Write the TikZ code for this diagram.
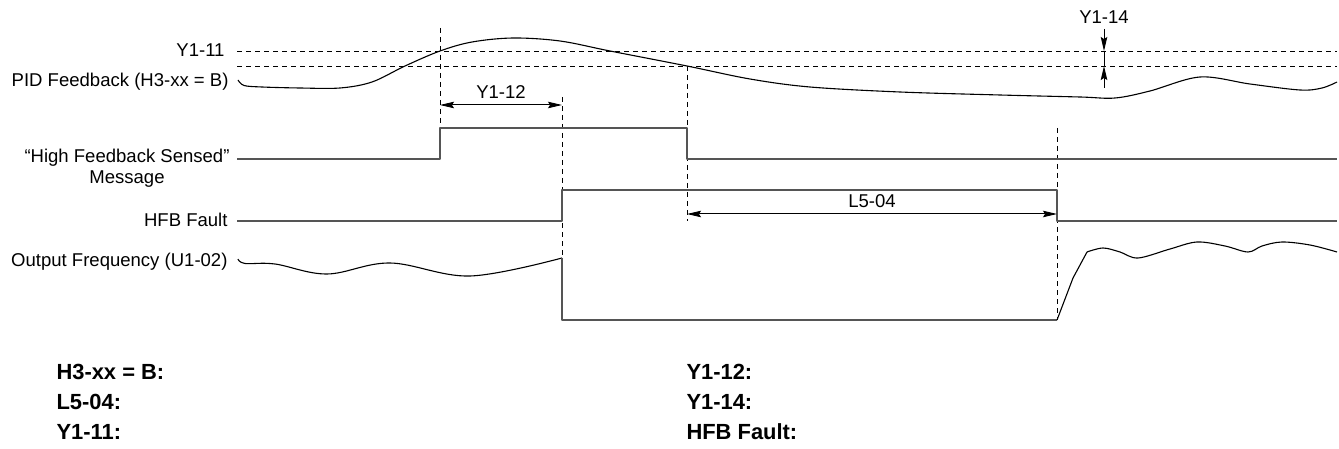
\documentclass[tikz,border=0pt]{standalone}
\usepackage{fontspec}
\setmainfont{Liberation Sans}
\usetikzlibrary{arrows.meta,positioning}
\definecolor{fg}{RGB}{0,0,0}
\definecolor{sig}{RGB}{85,85,85}
\definecolor{bg}{RGB}{255,255,255}
\tikzset{
  every picture/.style={fg, line width=1bp, line join=round, x=1bp, y=-1bp,
    >={Stealth[length=14bp,width=6.5bp,inset=2bp]}},
  every node/.style={font=\fontsize{18.6}{21}\selectfont, inner sep=0pt},
  % Linientypen
  trace/.style={line width=1.1bp},
  level/.style={sig, line width=1.6bp},
  aux/.style={line width=0.9bp, dash pattern=on 5bp off 4bp},
  dim/.style={line width=1bp, <->},
  % Beschriftung links der Signale
  lbl/.style={anchor=east},
  key/.style={font=\fontsize{22}{24}\selectfont\bfseries, anchor=base west},
}
\begin{document}
\begin{tikzpicture}
  \useasboundingbox[fill=bg] (0,0) rectangle (1339,449);
  \def\xo{237}   % Beginn der Signale
  \def\xe{1337}  % Ende der Signale
  \def\tA{440}   % Rueckfuehrung > Y1-11
  \def\tB{562}   % nach Y1-12
  \def\tC{687}   % Rueckfuehrung < Y1-11 - Y1-14
  \def\tD{1057}  % nach L5-04
  % Schwellen
  \draw[aux] (\xo,51) -- (\xe,51);
  \draw[aux] (\xo,66) -- (\xe,66);
  % Zeitmarken
  \draw[aux] (\tA,28) -- (\tA,128);
  \draw[aux] (\tB,97) -- (\tB,258);
  \draw[aux] (\tC,66) -- (\tC,221);
  \draw[aux] (\tD,128) -- (\tD,320);
  % PID-Rueckfuehrung
  \draw[trace] plot[smooth, tension=0.55] coordinates {(238,80) (244,85.5) (262,87) (300,88)
    (340,88) (372,82) (405,66) (440,51) (472,42) (513,38) (560,41) (610,51) (687,66)
    (750,79) (810,87) (900,92) (1000,95) (1080,97) (1115,98) (1150,91) (1200,77)
    (1250,84) (1300,90) (1322,88) (1337,82)};
  % Meldung
  \draw[level] (\xo,159) -- (\tA,159) -- (\tA,128) -- (\tC,128) -- (\tC,159) -- (\xe,159);
  % HFB-Fehler
  \draw[level] (\xo,221) -- (\tB,221) -- (\tB,190) -- (\tD,190) -- (\tD,221) -- (\xe,221);
  % Ausgangsfrequenz
  \draw[trace] plot[smooth, tension=0.6] coordinates {(238,259) (245,263.5) (275,264)
    (327,274) (390,263) (470,276) (\tB,258)};
  \draw[level] (\tB,258) -- (\tB,320) -- (\tD,320);
  \draw[trace] (\tD,320) -- (1073,278) -- (1087,252);
  \draw[trace] plot[smooth, tension=0.55] coordinates {(1087,252) (1103,248) (1120,252)
    (1138,258) (1170,249) (1197,242) (1225,246) (1248,252) (1262,246) (1282,242)
    (1310,245) (1337,252)};
  % Signalnamen
  \node[lbl] (y11) at (225,50) {Y1-11};
  \node[lbl] (pid) at (229,82) {PID Feedback (H3-xx = B)};
  \node[lbl] (hfs) at (230,158) {“High Feedback Sensed”};
  \node[below=3bp of hfs] (msg) {Message};
  \node[lbl] (hfb) at (228,220) {HFB Fault};
  \node[lbl] (ofq) at (228,262) {Output Frequency (U1-02)};
  % Zeiten und Band
  \draw[dim] (\tA,105) -- node[above=5.5bp] (l12) {Y1-12} (\tB,105);
  \draw[dim] (\tC,214) -- node[above=5.5bp] (l504) {L5-04} (\tD,214);
  \draw[->] (1104,29) node[above=4.5bp] (l14) {Y1-14} -- (1104,51);
  \draw (1104,51) -- (1104,66);
  \draw[->] (1104,88) -- (1104,66);
  % Legende
  \node[key] (kh3) at (56,379) {H3-xx = B:};
  \node[key] (kl5) at (56,409) {L5-04:};
  \node[key] (ky11) at (56,439) {Y1-11:};
  \node[key] (ky12) at (686,379) {Y1-12:};
  \node[key] (ky14) at (686,409) {Y1-14:};
  \node[key] (khfb) at (686,439) {HFB Fault:};
\end{tikzpicture}
\end{document}
